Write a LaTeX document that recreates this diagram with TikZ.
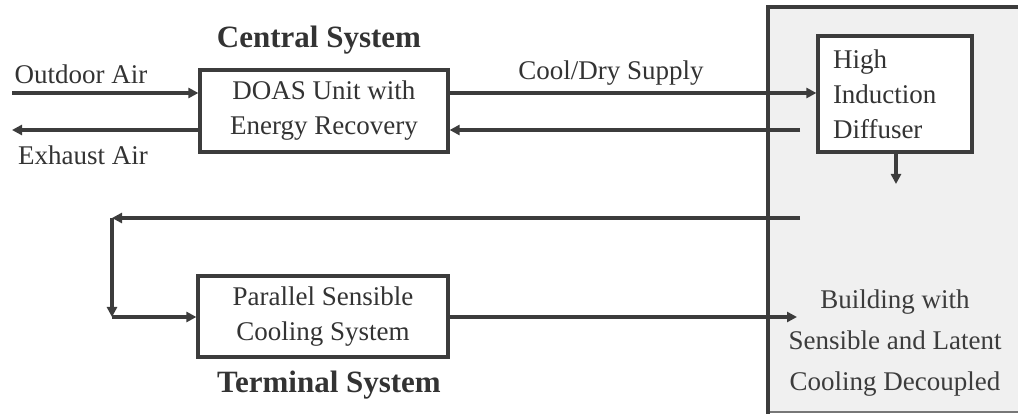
\documentclass[tikz,border=0pt]{standalone}
\usepackage{fontspec}
\setmainfont{Liberation Serif}
\usetikzlibrary{arrows.meta}
\definecolor{ink}{HTML}{3C3C3C}
\definecolor{txt}{HTML}{333333}
\definecolor{bldg}{HTML}{F0F0F0}
\tikzset{
  box/.style={draw=ink, line width=3.2pt, fill=white, text=txt, align=center,
    font=\fontsize{27}{35}\selectfont, inner sep=0pt},
  lbl/.style={text=txt, font=\fontsize{27}{33}\selectfont, inner sep=0pt},
  title/.style={text=txt, font=\fontsize{31}{36}\selectfont\bfseries, inner sep=0pt},
  flow/.style={draw=ink, line width=3.2pt, -{Triangle[length=10pt,width=10pt]}},
  plain/.style={draw=ink, line width=3.2pt}
}
\begin{document}
\begin{tikzpicture}[x=1pt,y=-1pt]
\useasboundingbox (0,0) rectangle (1018,414);
% building area
\begin{scope}
\clip (0,0) rectangle (1018,414);
\fill[bldg] (768,7) rectangle (1030,412);
\draw[ink!70, line width=1.2pt] (768,412) -- (1030,412);
\draw[ink, line width=4pt] (1030,7) -- (768,7) -- (768,414);
\end{scope}
% nodes
\node[box, minimum width=248pt, minimum height=82pt] (doas) at (324,111) {DOAS Unit with\\Energy Recovery};
\node[box, minimum width=154pt, minimum height=116pt, align=left, text width=124pt] (diff) at (895,94) {High\\Induction\\Diffuser};
\node[box, minimum width=250pt, minimum height=81pt] (par) at (323,316.5) {Parallel Sensible\\Cooling System};
\node[title] (central) at (319,40) {Central System};
\node[title] (terminal) at (329,385) {Terminal System};
\node[lbl] (outdoor) at (81,74) {Outdoor Air};
\node[lbl] (exhaust) at (83,155) {Exhaust Air};
\node[lbl] (cooldry) at (611,73) {Cool/Dry Supply};
\node[lbl, align=center, text=ink, font=\fontsize{27}{41}\selectfont] (building) at (895,343) {Building with\\Sensible and Latent\\Cooling Decoupled};
% coordinates
\coordinate (oa) at (12,93);
\coordinate (ex) at (12,130);
\coordinate (ret) at (800,130);
\coordinate (dd) at (896,184);
\coordinate (l1) at (800,218);
\coordinate (l2) at (112,218);
\coordinate (l3) at (112,317);
\coordinate (pe) at (797,317);
% connectors
\draw[flow] (oa) -- (oa -| doas.west);
\draw[flow] (ex -| doas.west) -- (ex);
\draw[flow] (doas.east |- oa) -- (diff.west |- oa);
\draw[flow] (ret) -- (ret -| doas.east);
\draw[flow] (diff.south -| dd) -- (dd);
\draw[flow] (l1) -- (l2);
\draw[flow] (l2) -- (l3);
\draw[flow] (l3) -- (l3 -| par.west);
\draw[flow] (l3 -| par.east) -- (pe);
\end{tikzpicture}
\end{document}
